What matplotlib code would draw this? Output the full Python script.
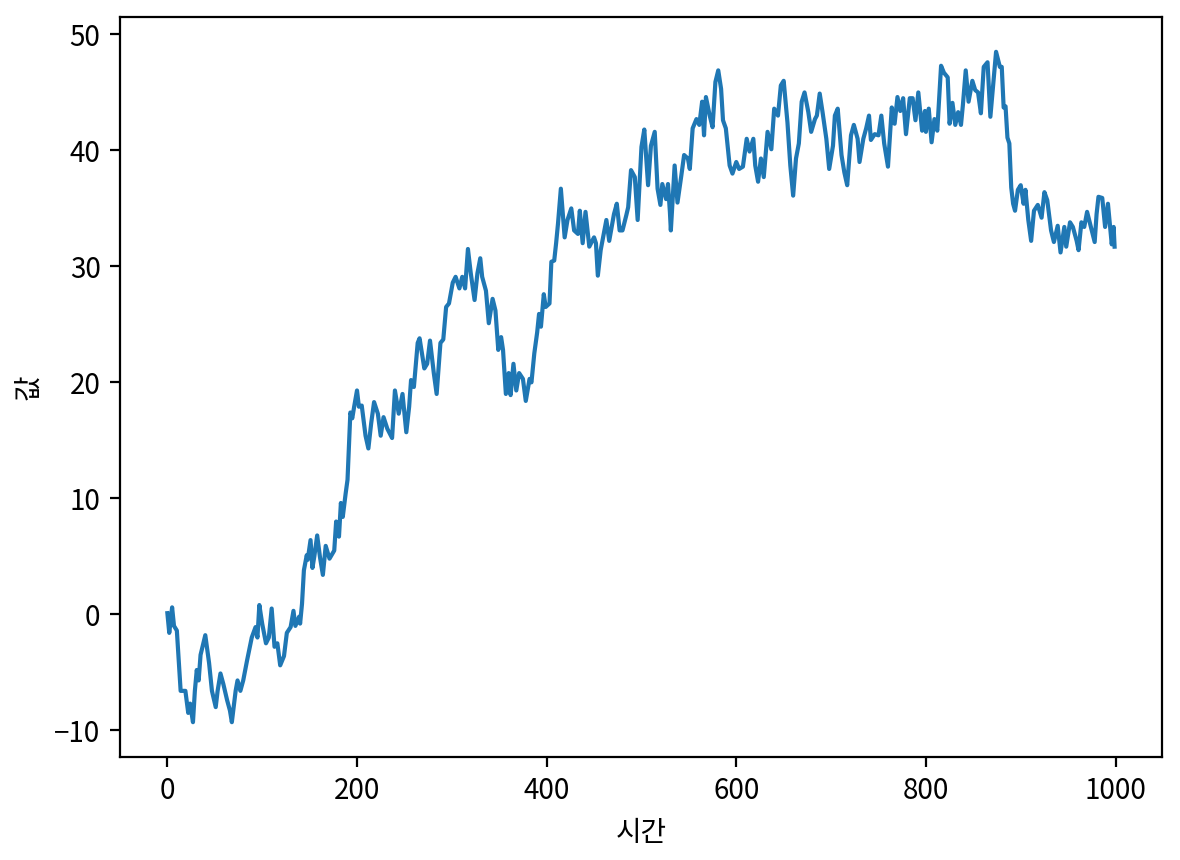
import matplotlib
matplotlib.use("Agg")
import matplotlib.pyplot as plt

plt.rcParams['font.family'] = ['Noto Sans CJK KR', 'DejaVu Sans']
plt.rcParams['axes.unicode_minus'] = True

time_steps = [
    0, 2, 5, 7, 10, 14, 19, 22, 24, 27, 29, 31, 33, 35, 40, 44, 47, 51, 53, 56,
    59, 63, 66, 68, 72, 74, 77, 80, 84, 89, 93, 95, 97, 100, 104, 107, 110, 113, 116, 119,
    123, 126, 130, 133, 135, 139, 140, 142, 144, 147, 148, 151, 153, 155, 158, 161, 164, 167, 171, 176,
    178, 181, 183, 185, 188, 190, 193, 195, 197, 200, 202, 205, 207, 209, 212, 215, 218, 222, 225, 228,
    232, 237, 240, 244, 248, 252, 255, 257, 260, 264, 266, 271, 274, 277, 281, 284, 288, 291, 294, 297,
    301, 304, 308, 311, 314, 317, 320, 324, 327, 330, 332, 336, 339, 343, 346, 349, 352, 354, 357, 360,
    362, 365, 368, 371, 375, 378, 382, 384, 387, 390, 392, 394, 397, 399, 403, 405, 408, 410, 412, 415,
    419, 422, 426, 429, 433, 435, 438, 441, 445, 450, 452, 454, 457, 463, 466, 471, 474, 477, 480, 484,
    486, 489, 493, 496, 500, 503, 507, 510, 514, 517, 520, 522, 526, 528, 530, 531, 535, 538, 542, 545,
    549, 551, 554, 558, 561, 564, 566, 568, 572, 575, 578, 581, 584, 586, 589, 593, 596, 600, 603, 607,
    611, 614, 618, 620, 623, 626, 629, 633, 637, 640, 644, 647, 650, 654, 657, 660, 663, 666, 669, 672,
    676, 679, 683, 685, 688, 691, 695, 698, 702, 704, 707, 711, 714, 717, 721, 724, 728, 730, 734, 737,
    740, 742, 746, 750, 753, 756, 760, 764, 767, 770, 773, 776, 779, 783, 786, 789, 792, 796, 799, 800,
    803, 806, 809, 812, 816, 819, 823, 825, 828, 831, 834, 837, 839, 842, 845, 849, 852, 855, 858, 861,
    865, 868, 872, 874, 878, 880, 882, 884, 886, 888, 890, 892, 894, 897, 900, 903, 905, 908, 911, 914,
    918, 922, 925, 928, 932, 935, 939, 942, 946, 948, 952, 955, 959, 961, 964, 967, 970, 974, 978, 980,
    982, 986, 989, 992, 996, 998, 999,
]

values = [
    0.1, -1.6, 0.6, -1.0, -1.4, -6.6, -6.6, -8.5, -7.7, -9.3, -6.6, -4.8, -5.7, -3.5, -1.8, -4.2, -6.6, -8.0, -6.6, -5.1,
    -6.0, -7.4, -8.3, -9.3, -6.6, -5.7, -6.6, -5.7, -4.0, -2.0, -1.1, -2.0, 0.8, -0.8, -2.5, -2.0, 0.5, -2.8, -2.5, -4.4,
    -3.6, -1.6, -1.1, 0.3, -1.0, -0.2, -0.8, 0.9, 3.8, 5.1, 4.7, 6.4, 4.0, 5.0, 6.8, 4.9, 3.4, 5.9, 4.8, 5.5,
    8.0, 6.7, 9.6, 8.4, 10.4, 11.6, 17.4, 16.9, 17.9, 19.3, 17.9, 18.0, 16.7, 15.4, 14.3, 16.5, 18.3, 17.3, 15.4, 17.0,
    16.0, 15.2, 19.3, 17.3, 19.0, 15.7, 17.9, 20.2, 19.6, 23.4, 23.8, 21.2, 21.6, 23.6, 20.8, 19.0, 23.4, 23.7, 26.5, 26.8,
    28.6, 29.1, 28.1, 29.1, 28.1, 31.5, 29.4, 27.1, 29.4, 30.7, 29.1, 27.9, 25.1, 27.2, 26.2, 22.8, 23.9, 22.8, 19.0, 20.8,
    18.9, 21.6, 19.3, 20.8, 20.3, 18.4, 20.3, 20.0, 22.5, 24.3, 25.9, 24.8, 27.6, 26.5, 26.8, 30.4, 30.5, 32.0, 33.7, 36.7,
    32.5, 34.0, 35.0, 33.1, 32.8, 34.8, 32.0, 34.7, 31.7, 32.5, 32.0, 29.2, 31.4, 34.0, 32.2, 34.5, 35.4, 33.1, 33.1, 34.4,
    35.1, 38.3, 37.7, 34.0, 40.3, 41.8, 37.0, 40.4, 41.6, 36.7, 35.3, 37.1, 35.8, 37.1, 34.7, 33.1, 38.7, 35.5, 37.8, 39.6,
    39.3, 38.4, 41.9, 42.7, 42.2, 44.2, 41.3, 44.6, 43.0, 42.0, 45.9, 46.9, 45.3, 42.6, 41.9, 38.7, 38.0, 39.0, 38.4, 38.6,
    41.0, 39.9, 41.0, 38.7, 37.3, 39.3, 37.7, 41.6, 40.1, 43.6, 43.0, 45.6, 46.0, 42.4, 38.7, 36.1, 39.3, 40.6, 44.2, 45.0,
    43.3, 41.6, 42.7, 43.0, 44.9, 43.3, 41.0, 38.4, 40.4, 43.0, 43.6, 39.6, 38.1, 37.0, 41.3, 42.2, 41.0, 39.0, 41.0, 41.9,
    43.0, 40.9, 41.4, 41.3, 43.0, 40.6, 38.6, 43.7, 42.3, 44.6, 43.4, 44.5, 41.4, 44.5, 44.5, 42.6, 45.0, 41.7, 43.4, 41.6,
    43.6, 40.7, 42.7, 41.7, 47.3, 46.7, 46.3, 42.3, 44.1, 42.2, 43.3, 42.2, 43.9, 46.9, 44.2, 46.0, 45.2, 45.0, 43.2, 47.2,
    47.6, 42.9, 46.6, 48.5, 47.2, 47.2, 43.7, 43.8, 41.1, 40.6, 36.8, 35.4, 34.8, 36.6, 37.0, 35.4, 36.6, 34.0, 32.2, 34.8,
    35.3, 34.2, 36.4, 35.7, 33.1, 32.1, 33.5, 31.2, 33.4, 31.7, 33.8, 33.4, 32.2, 31.4, 33.8, 33.4, 34.7, 33.4, 32.1, 34.5,
    36.0, 35.9, 33.4, 35.4, 31.9, 33.4, 31.7,
]

x_label = "시간"
y_label = "값"

fig, ax = plt.subplots(figsize=(5.9, 4.3), dpi=200)
fig.subplots_adjust(left=0.1017, right=0.9847, top=0.9802, bottom=0.1198)
ax.plot(time_steps, values, color="#1f77b4", linewidth=1.5)
ax.set_xlim(-49.95, 1048.95)
ax.set_ylim(-12.3, 51.5)
ax.set_xticks([0, 200, 400, 600, 800, 1000])
ax.set_yticks([-10, 0, 10, 20, 30, 40, 50])
ax.set_xlabel(x_label)
ax.set_ylabel(y_label)
fig.savefig("out.png", dpi=200)
